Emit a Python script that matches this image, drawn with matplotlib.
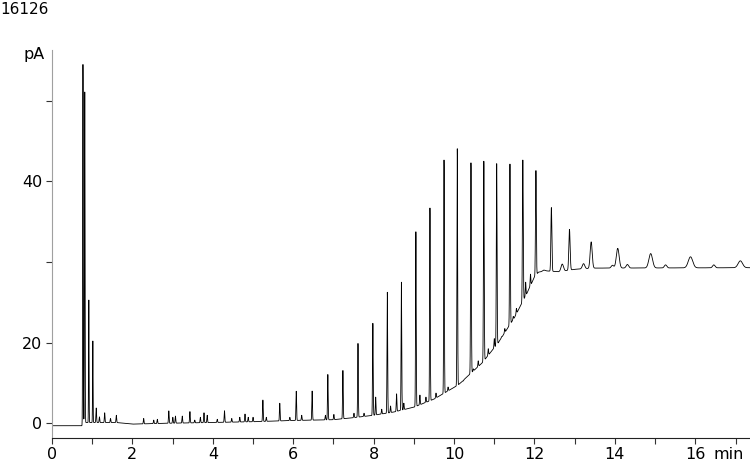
import numpy as np
import matplotlib
matplotlib.use('Agg')
import matplotlib.pyplot as plt

# Retention times (min), apex heights (pA, absolute) and peak widths (sigma, min)
peak_rt = [0.77, 0.815, 0.915, 1.015, 5.245, 5.665, 6.075, 6.47, 6.86, 7.235,
           7.61, 7.98, 8.34, 8.69, 9.05, 9.40, 9.75, 10.08, 10.42, 10.74,
           11.06, 11.39, 11.71, 12.035, 12.42, 12.87, 13.41, 14.07, 14.89,
           15.88, 17.12]
peak_apex = [89.0, 83.0, 31.0, 20.7, 5.8, 5.0, 8.0, 8.0, 12.1, 13.2,
             19.8, 24.8, 32.5, 35.0, 47.5, 53.4, 65.3, 68.1, 64.6, 65.0,
             64.4, 64.3, 65.3, 62.8, 53.5, 48.1, 45.0, 43.4, 42.1,
             41.3, 40.3]
peak_sigma = [0.007, 0.007, 0.006, 0.006, 0.008, 0.008, 0.008, 0.008, 0.008, 0.008,
              0.008, 0.008, 0.008, 0.008, 0.008, 0.008, 0.008, 0.008, 0.009, 0.009,
              0.009, 0.009, 0.01, 0.01, 0.012, 0.016, 0.025, 0.035, 0.045,
              0.055, 0.055]

# Minor peaks (apex heights, pA)
small_rt = [1.10, 1.18, 1.31, 1.455, 1.60, 2.28, 2.53, 2.62, 2.905, 3.005,
            3.07, 3.24, 3.43, 3.55, 3.69, 3.78, 3.86, 4.11, 4.29, 4.47,
            4.67, 4.80, 4.88, 5.00, 5.33, 5.915, 6.21, 6.80, 7.01, 7.51,
            7.76, 8.05, 8.20, 8.42, 8.57, 8.75, 9.15, 9.30, 9.55, 9.85,
            10.23, 10.48, 10.60, 10.85, 11.00, 11.18, 11.26, 11.47, 11.55,
            11.78, 11.90, 12.23, 12.69, 13.22, 13.94, 14.31, 15.26, 16.46]
small_apex = [3.8, 1.6, 2.6, 1.2, 2.0, 1.2, 0.8, 1.0, 3.1, 1.5,
              1.8, 1.8, 2.9, 0.8, 1.5, 2.6, 2.0, 1.0, 3.1, 1.2,
              1.5, 2.3, 1.5, 1.5, 1.5, 1.5, 2.0, 2.0, 2.2, 2.5,
              2.5, 6.5, 3.5, 4.3, 7.3, 5.0, 7.0, 6.5, 7.5, 9.0,
              10.5, 13.5, 15.5, 18.5, 21.0, 21.5, 23.5, 26.5, 28.5,
              35.0, 37.0, 38.0, 39.5, 39.6, 39.2, 39.4, 39.3, 39.3]

# Baseline drift (pA)
base_t = [0.0, 0.75, 0.80, 1.6, 2.0, 2.8, 4.0, 5.0, 6.0, 7.0, 7.5, 8.0, 8.5,
          9.0, 9.5, 10.1, 10.7, 11.1, 11.5, 11.8, 12.0, 12.1, 12.3, 12.6,
          13.0, 13.5, 17.4]
base_y = [-0.6, -0.6, 0.2, 0.2, -0.2, 0.0, 0.2, 0.4, 0.7, 0.9, 1.4, 2.0, 2.8,
          4.0, 6.0, 9.5, 15.0, 20.0, 26.2, 32.0, 36.3, 37.5, 37.8, 37.6,
          38.2, 38.5, 38.6]

t = np.arange(0, 17.4, 0.002)
base = np.interp(t, base_t, base_y)
signal = base.copy()
for rt, apex, sig in zip(peak_rt, peak_apex, peak_sigma):
    amp = apex - np.interp(rt, base_t, base_y)
    signal += amp * np.exp(-0.5 * ((t - rt) / sig) ** 2)
for rt, apex in zip(small_rt, small_apex):
    amp = apex - np.interp(rt, base_t, base_y)
    sig = 0.008 if rt < 12.1 else 0.03
    signal += amp * np.exp(-0.5 * ((t - rt) / sig) ** 2)

plt.rcParams['font.family'] = 'DejaVu Sans'
fig = plt.figure(figsize=(7.5, 4.61), dpi=100)
ax = fig.add_axes([52 / 750, 23.5 / 461, 1 - 52 / 750, (437.5 - 50) / 461])

ax.plot(t, signal, color='black', linewidth=0.6)

ax.set_xlim(0, 17.36)
ax.set_ylim(-3.52, 92.6)

xt = list(range(0, 18))
xl = [str(v) if v % 2 == 0 else '' for v in xt]
xl[-1] = ''
ax.set_xticks(xt)
ax.set_xticklabels(xl)
ax.set_yticks([0, 20, 40, 60, 80])
ax.set_yticklabels(['0', '20', '', '40', ''])

ax.tick_params(direction='out', length=4, width=0.8, labelsize=11.5, pad=3, color='#333333')
for s in ['top', 'right']:
    ax.spines[s].set_visible(False)
ax.spines['left'].set_color('#a0a0a0')
ax.spines['bottom'].set_color('#222222')

# axis unit label in place of the last tick label
ax.text(16.82, -0.024, 'min', transform=ax.get_xaxis_transform(),
        fontsize=11.5, ha='center', va='top')

fig.text(0.0, 1 - 2 / 461, '16126', fontsize=11, va='top', ha='left')
fig.text(45 / 750, 1 - 55 / 461, 'pA', fontsize=11.5, va='center', ha='right')

fig.savefig('out.png', dpi=100)
